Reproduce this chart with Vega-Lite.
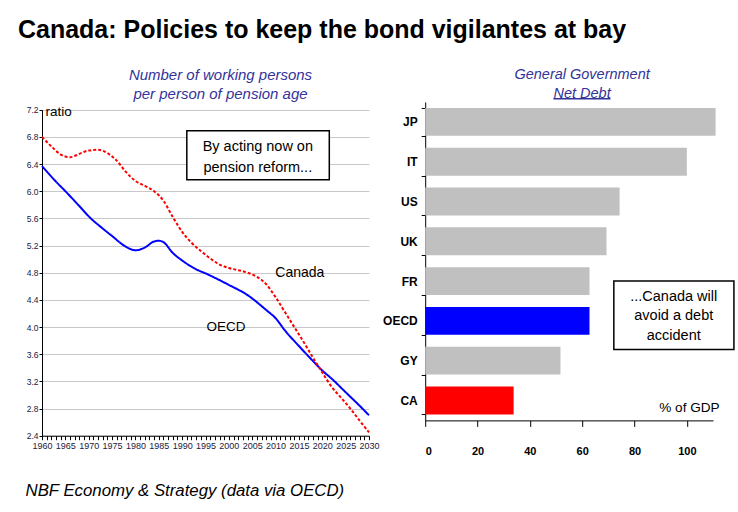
{
  "$schema": "https://vega.github.io/schema/vega-lite/v6.json",
  "padding": {"left": 18, "top": 18, "right": 2, "bottom": 2},
  "background": "white",
  "config": {
    "view": {"stroke": null},
    "axis": {"domainColor": "black", "tickColor": "black", "labelColor": "#1a1a40", "labelOverlap": false, "labelFont": "Liberation Sans"},
    "font": "Liberation Sans"
  },
  "resolve": {"scale": {"color": "independent", "strokeDash": "independent"}},
  "title": {
    "text": "Canada: Policies to keep the bond vigilantes at bay",
    "anchor": "start",
    "font": "Liberation Sans",
    "fontSize": 25,
    "fontWeight": "bold",
    "color": "black",
    "dx": -7,
    "offset": 24
  },
  "spacing": 2.2,
  "hconcat": [
    {
      "width": 327,
      "height": 333.7,
      "title": {
        "text": ["Number of  working persons", "per person of pension age"],
        "font": "Liberation Sans",
        "fontSize": 15,
        "fontStyle": "italic",
        "fontWeight": "normal",
        "color": "#333399",
        "lineHeight": 19,
        "offset": 0,
        "dx": 15
      },
      "layer": [
        {
          "data": {
            "values": [
              {"year": 1960, "ratio": 6.37, "series": "OECD"},
              {"year": 1963, "ratio": 6.14, "series": "OECD"},
              {"year": 1965, "ratio": 6.0, "series": "OECD"},
              {"year": 1968, "ratio": 5.78, "series": "OECD"},
              {"year": 1970, "ratio": 5.63, "series": "OECD"},
              {"year": 1973, "ratio": 5.45, "series": "OECD"},
              {"year": 1975, "ratio": 5.34, "series": "OECD"},
              {"year": 1978, "ratio": 5.18, "series": "OECD"},
              {"year": 1980, "ratio": 5.13, "series": "OECD"},
              {"year": 1982, "ratio": 5.17, "series": "OECD"},
              {"year": 1984, "ratio": 5.26, "series": "OECD"},
              {"year": 1985, "ratio": 5.27, "series": "OECD"},
              {"year": 1986, "ratio": 5.25, "series": "OECD"},
              {"year": 1988, "ratio": 5.09, "series": "OECD"},
              {"year": 1990, "ratio": 4.98, "series": "OECD"},
              {"year": 1993, "ratio": 4.85, "series": "OECD"},
              {"year": 1995, "ratio": 4.79, "series": "OECD"},
              {"year": 2000, "ratio": 4.62, "series": "OECD"},
              {"year": 2004, "ratio": 4.47, "series": "OECD"},
              {"year": 2008, "ratio": 4.25, "series": "OECD"},
              {"year": 2010, "ratio": 4.13, "series": "OECD"},
              {"year": 2012, "ratio": 3.95, "series": "OECD"},
              {"year": 2015, "ratio": 3.72, "series": "OECD"},
              {"year": 2018, "ratio": 3.5, "series": "OECD"},
              {"year": 2020, "ratio": 3.36, "series": "OECD"},
              {"year": 2022, "ratio": 3.24, "series": "OECD"},
              {"year": 2025, "ratio": 3.04, "series": "OECD"},
              {"year": 2028, "ratio": 2.84, "series": "OECD"},
              {"year": 2030, "ratio": 2.7, "series": "OECD"},
              {"year": 1960, "ratio": 6.8, "series": "Canada"},
              {"year": 1962, "ratio": 6.66, "series": "Canada"},
              {"year": 1964, "ratio": 6.54, "series": "Canada"},
              {"year": 1966, "ratio": 6.5, "series": "Canada"},
              {"year": 1968, "ratio": 6.55, "series": "Canada"},
              {"year": 1970, "ratio": 6.6, "series": "Canada"},
              {"year": 1972, "ratio": 6.61, "series": "Canada"},
              {"year": 1974, "ratio": 6.56, "series": "Canada"},
              {"year": 1976, "ratio": 6.45, "series": "Canada"},
              {"year": 1978, "ratio": 6.28, "series": "Canada"},
              {"year": 1980, "ratio": 6.15, "series": "Canada"},
              {"year": 1982, "ratio": 6.08, "series": "Canada"},
              {"year": 1984, "ratio": 6.0, "series": "Canada"},
              {"year": 1986, "ratio": 5.86, "series": "Canada"},
              {"year": 1988, "ratio": 5.62, "series": "Canada"},
              {"year": 1990, "ratio": 5.4, "series": "Canada"},
              {"year": 1992, "ratio": 5.24, "series": "Canada"},
              {"year": 1994, "ratio": 5.12, "series": "Canada"},
              {"year": 1996, "ratio": 5.01, "series": "Canada"},
              {"year": 1998, "ratio": 4.92, "series": "Canada"},
              {"year": 2000, "ratio": 4.87, "series": "Canada"},
              {"year": 2004, "ratio": 4.8, "series": "Canada"},
              {"year": 2006, "ratio": 4.74, "series": "Canada"},
              {"year": 2008, "ratio": 4.63, "series": "Canada"},
              {"year": 2010, "ratio": 4.44, "series": "Canada"},
              {"year": 2012, "ratio": 4.22, "series": "Canada"},
              {"year": 2014, "ratio": 4.0, "series": "Canada"},
              {"year": 2016, "ratio": 3.78, "series": "Canada"},
              {"year": 2018, "ratio": 3.55, "series": "Canada"},
              {"year": 2020, "ratio": 3.33, "series": "Canada"},
              {"year": 2022, "ratio": 3.12, "series": "Canada"},
              {"year": 2024, "ratio": 2.96, "series": "Canada"},
              {"year": 2026, "ratio": 2.8, "series": "Canada"},
              {"year": 2028, "ratio": 2.62, "series": "Canada"},
              {"year": 2030, "ratio": 2.45, "series": "Canada"}
            ]
          },
          "mark": {"type": "line", "interpolate": "monotone", "strokeWidth": 2},
          "encoding": {
            "x": {
              "field": "year", "type": "quantitative",
              "scale": {"domain": [1960, 2030], "nice": false, "zero": false},
              "axis": {
                "values": [1960,1961,1962,1963,1964,1965,1966,1967,1968,1969,1970,1971,1972,1973,1974,1975,1976,1977,1978,1979,1980,1981,1982,1983,1984,1985,1986,1987,1988,1989,1990,1991,1992,1993,1994,1995,1996,1997,1998,1999,2000,2001,2002,2003,2004,2005,2006,2007,2008,2009,2010,2011,2012,2013,2014,2015,2016,2017,2018,2019,2020,2021,2022,2023,2024,2025,2026,2027,2028,2029,2030],
                "tickCount": 200,
                "labelExpr": "datum.value % 5 === 0 ? datum.value : ''",
                "labelOverlap": false,
                "labelFlush": false,
                "labelFontSize": 9,
                "labelPadding": 2,
                "tickSize": 4,
                "grid": false,
                "title": "NBF Economy & Strategy (data via OECD)",
                "titleFont": "Liberation Sans",
                "titleFontSize": 16.8,
                "titleFontStyle": "italic",
                "titleFontWeight": "normal",
                "titleColor": "black",
                "titleAnchor": "start",
                "titleAlign": "left",
                "titleBaseline": "alphabetic",
                "titleX": -17,
                "titleY": 60
              }
            },
            "y": {
              "field": "ratio", "type": "quantitative",
              "scale": {"domain": [2.4, 7.2], "nice": false, "zero": false, "range": [333.7, 7.7]},
              "axis": {
                "values": [2.4, 2.8, 3.2, 3.6, 4.0, 4.4, 4.8, 5.2, 5.6, 6.0, 6.4, 6.8, 7.2],
                "tickCount": 50,
                "format": ".1f",
                "labelOverlap": false,
                "labelFlush": false,
                "labelFontSize": 8.5,
                "labelPadding": 1,
                "tickSize": 3,
                "grid": true,
                "gridColor": "#c8c8c8",
                "title": "ratio",
                "titleFont": "Liberation Sans",
                "titleFontSize": 13.5,
                "titleFontWeight": "normal",
                "titleColor": "black",
                "titleAngle": 0,
                "titleAlign": "left",
                "titleBaseline": "middle",
                "titleX": 3,
                "titleY": 10
              }
            },
            "color": {
              "field": "series", "type": "nominal",
              "scale": {"domain": ["OECD", "Canada"], "range": ["#0000ff", "#ff0000"]},
              "legend": null
            },
            "strokeDash": {
              "field": "series", "type": "nominal",
              "scale": {"domain": ["OECD", "Canada"], "range": [[1, 0], [3, 2]]},
              "legend": null
            }
          }
        },
        {
          "data": {"values": [{}]},
          "mark": {"type": "rect", "fill": "white", "stroke": "black", "strokeWidth": 1.5},
          "encoding": {
            "x": {"datum": 1991.0, "type": "quantitative"},
            "x2": {"datum": 2021.5},
            "y": {"datum": 6.89, "type": "quantitative"},
            "y2": {"datum": 6.17}
          }
        },
        {
          "data": {"values": [{}]},
          "mark": {"type": "text", "font": "Liberation Sans", "fontSize": 14.5, "lineHeight": 21, "align": "center", "baseline": "middle", "color": "black"},
          "encoding": {
            "x": {"datum": 2006.2, "type": "quantitative"},
            "y": {"datum": 6.655, "type": "quantitative"},
            "text": {"value": ["By acting now on", "pension reform..."]}
          }
        },
        {
          "data": {"values": [{}]},
          "mark": {"type": "text", "font": "Liberation Sans", "fontSize": 14, "align": "center", "baseline": "middle", "color": "black"},
          "encoding": {
            "x": {"datum": 2015.2, "type": "quantitative"},
            "y": {"datum": 4.8, "type": "quantitative"},
            "text": {"value": "Canada"}
          }
        },
        {
          "data": {"values": [{}]},
          "mark": {"type": "text", "font": "Liberation Sans", "fontSize": 13.5, "align": "center", "baseline": "middle", "color": "black"},
          "encoding": {
            "x": {"datum": 1999.4, "type": "quantitative"},
            "y": {"datum": 4.0, "type": "quantitative"},
            "text": {"value": "OECD"}
          }
        }
      ]
    },
    {
      "width": 287.8,
      "height": 333.7,
      "title": {
        "text": ["General Government", "Net Debt"],
        "font": "Liberation Sans",
        "fontSize": 14.5,
        "fontStyle": "italic",
        "fontWeight": "normal",
        "color": "#333399",
        "lineHeight": 19,
        "offset": -5.5,
        "dx": 13
      },
      "resolve": {"scale": {"y": "independent"}},
      "layer": [
        {
          "data": {
            "values": [
              {"country": "JP", "debt": 111},
              {"country": "IT", "debt": 100},
              {"country": "US", "debt": 74.3},
              {"country": "UK", "debt": 69.3},
              {"country": "FR", "debt": 62.8},
              {"country": "OECD", "debt": 62.8},
              {"country": "GY", "debt": 51.7},
              {"country": "CA", "debt": 33.8}
            ]
          },
          "mark": {"type": "bar"},
          "encoding": {
            "y": {
              "field": "country", "type": "nominal", "sort": null,
              "scale": {"range": [0, 318.4], "paddingInner": 0.3, "paddingOuter": 0.15},
              "axis": {
                "title": null,
                "labelFontSize": 12,
                "labelFontWeight": "bold",
                "labelColor": "black",
                "labelPadding": 4,
                "tickSize": 4,
                "tickBand": "extent"
              }
            },
            "x": {
              "field": "debt", "type": "quantitative",
              "scale": {"domain": [0, 110], "nice": false},
              "axis": {
                "values": [0, 20, 40, 60, 80, 100],
                "tickCount": 20,
                "grid": false,
                "title": null,
                "offset": -15.3,
                "tickSize": 6,
                "labelFontSize": 11,
                "labelFontWeight": "bold",
                "labelColor": "black",
                "labelPadding": 19
              }
            },
            "color": {
              "field": "country", "type": "nominal",
              "scale": {
                "domain": ["JP", "IT", "US", "UK", "FR", "OECD", "GY", "CA"],
                "range": ["#c0c0c0", "#c0c0c0", "#c0c0c0", "#c0c0c0", "#c0c0c0", "#0000ff", "#c0c0c0", "#ff0000"]
              },
              "legend": null
            }
          }
        },
        {
          "data": {"values": [{}]},
          "layer": [
            {
              "mark": {"type": "rect", "fill": "white", "stroke": "black", "strokeWidth": 1.5},
              "encoding": {
                "x": {"datum": 72.1, "type": "quantitative"},
                "x2": {"datum": 118},
                "y": {"datum": 4.5, "type": "quantitative", "scale": {"domain": [0, 8], "range": [0, 318.4]}, "axis": null},
                "y2": {"datum": 6.22}
              }
            },
            {
              "mark": {"type": "text", "font": "Liberation Sans", "fontSize": 14.5, "lineHeight": 19.5, "align": "center", "baseline": "middle", "color": "black"},
              "encoding": {
                "x": {"datum": 95.0, "type": "quantitative"},
                "y": {"datum": 4.9, "type": "quantitative", "axis": null},
                "text": {"value": ["...Canada will", "avoid a debt", "accident"]}
              }
            },
            {
              "mark": {"type": "text", "font": "Liberation Sans", "fontSize": 13.6, "align": "center", "baseline": "middle", "color": "black"},
              "encoding": {
                "x": {"datum": 101, "type": "quantitative"},
                "y": {"datum": 7.68, "type": "quantitative", "axis": null},
                "text": {"value": "% of GDP"}
              }
            },
            {
              "mark": {"type": "rule", "color": "#333399", "strokeWidth": 1.5},
              "encoding": {
                "x": {"datum": 49.0, "type": "quantitative"},
                "x2": {"datum": 70.8},
                "y": {"datum": -0.083, "type": "quantitative", "axis": null}
              }
            }
          ]
        }
      ]
    }
  ]
}
